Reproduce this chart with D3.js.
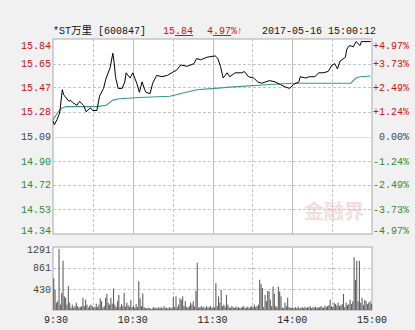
<!DOCTYPE html>
<html>
<head>
<meta charset="utf-8">
<script src="https://cdn.jsdelivr.net/npm/d3@7"></script>
<style>
body{margin:0;background:#f1f1f1;}
svg{display:block;}
text{font-family:"Liberation Mono","DejaVu Sans Mono",monospace;font-size:10px;}
</style>
</head>
<body>
<svg id="chart" width="415" height="330"></svg>
<script>
// price ticks on the left, percent ticks on the right
var priceTicks = [15.84, 15.65, 15.47, 15.28, 15.09, 14.90, 14.72, 14.53, 14.34]
var pctTicks = ["+4.97%", "+3.73%", "+2.49%", "+1.24%", "0.00%", "-1.24%", "-2.49%", "-3.73%", "-4.97%"]
var volTicks = [1291, 861, 430]
var timeLabels = ["9:30", "10:30", "11:30", "14:00", "15:00"]
var timeMin = [0, 60, 120, 180, 240]

// minute traded (0 = 9:30) and price
var priceMin = [0, 1, 3, 5, 7, 8, 9, 12, 13, 15, 18, 20, 23, 25, 28, 30, 33, 35, 38, 40, 43, 45, 46, 47, 49, 52, 54, 55, 58, 60,
	63, 65, 67, 69, 70, 73, 75, 78, 82, 86, 91, 93, 96, 101, 106, 108, 111, 116, 122, 124, 126, 128, 131, 133, 137, 142, 144, 147, 151, 154,
	157, 160, 163, 167, 171, 175, 178, 181, 185, 186, 190, 193, 197, 200, 203, 207, 210, 212, 214, 216, 220, 221, 223, 226, 228, 231, 232, 239]
var priceVal = [15.21, 15.18, 15.22, 15.27, 15.45, 15.41, 15.40, 15.36, 15.37, 15.35, 15.33, 15.36, 15.33, 15.28, 15.31, 15.29, 15.29, 15.40, 15.46, 15.54, 15.62, 15.73, 15.66, 15.55, 15.46, 15.46, 15.51, 15.58, 15.54, 15.58,
	15.50, 15.43, 15.51, 15.45, 15.43, 15.42, 15.50, 15.56, 15.55, 15.56, 15.59, 15.60, 15.64, 15.63, 15.65, 15.69, 15.68, 15.70, 15.71, 15.69, 15.63, 15.54, 15.58, 15.55, 15.58, 15.58, 15.59, 15.55, 15.54, 15.51,
	15.50, 15.51, 15.52, 15.51, 15.49, 15.47, 15.46, 15.49, 15.51, 15.55, 15.54, 15.55, 15.55, 15.58, 15.58, 15.59, 15.64, 15.65, 15.61, 15.67, 15.70, 15.76, 15.79, 15.78, 15.82, 15.79, 15.82, 15.82]

// average price line
var avgMin = [0, 4, 7, 10, 23, 33, 40, 45, 50, 65, 88, 108, 122, 133, 163, 181, 213, 224, 228, 231, 239]
var avgVal = [15.22, 15.28, 15.31, 15.32, 15.32, 15.32, 15.33, 15.37, 15.38, 15.39, 15.40, 15.45, 15.46, 15.47, 15.49, 15.50, 15.50, 15.50, 15.54, 15.55, 15.555]

// volume per minute
var volume = [650, 410, 150, 180, 1250, 110, 350, 1010, 280, 250,
	110, 490, 150, 50, 110, 50, 80, 150, 80, 50,
	60, 80, 250, 80, 210, 110, 50, 80, 110, 80,
	50, 60, 130, 60, 110, 240, 180, 50, 80, 250,
	330, 150, 110, 250, 130, 440, 110, 60, 180, 310,
	60, 120, 80, 350, 70, 150, 100, 60, 200, 60,
	80, 50, 120, 60, 590, 240, 80, 340, 60, 40,
	30, 50, 40, 20, 30, 60, 40, 50, 30, 60,
	40, 60, 30, 80, 40, 50, 30, 60, 40, 50,
	270, 60, 280, 60, 110, 240, 210, 280, 80, 180,
	60, 50, 80, 150, 110, 180, 70, 390, 970, 50,
	60, 80, 50, 70, 40, 80, 50, 60, 80, 40,
	60, 50, 550, 80, 280, 150, 410, 80, 110, 70,
	310, 110, 60, 40, 80, 60, 40, 70, 50, 60,
	40, 50, 60, 80, 40, 50, 70, 40, 60, 80,
	50, 110, 60, 80, 110, 620, 530, 450, 60, 310,
	180, 390, 380, 210, 80, 480, 330, 80, 60, 480,
	380, 280, 50, 40, 150, 80, 250, 60, 50, 40,
	50, 30, 60, 40, 70, 30, 50, 60, 40, 70,
	40, 60, 50, 80, 40, 60, 50, 70, 40, 60,
	50, 80, 60, 40, 90, 60, 80, 100, 210, 80,
	60, 150, 120, 90, 150, 80, 100, 120, 330, 60,
	150, 100, 120, 210, 120, 180, 1080, 620, 1010, 180,
	1010, 150, 250, 100, 210, 180, 120, 150, 180, 130]

var RED = '#d01010', GREEN = '#2e8b2e', GRAY = '#444'

function draw(){
	var svg = d3.select('svg#chart')
	var x = d3.scaleLinear().domain([0, 240]).range([53, 372])
	var y = d3.scaleLinear().domain([14.34, 15.84]).range([234, 39])
	var yv = d3.scaleLinear().domain([0, 1291]).range([310, 247])

	// panels
	svg.append('rect').attr('x', 53).attr('y', 39).attr('width', 319).attr('height', 195)
		.style('fill', '#fff').style('stroke', '#aaa')
	svg.append('rect').attr('x', 53).attr('y', 247).attr('width', 319).attr('height', 63)
		.style('fill', '#fff').style('stroke', '#aaa')

	// watermark
	svg.append('text').attr('x', 334).attr('y', 219).attr('text-anchor', 'middle')
		.style('font-family', '"Noto Sans CJK SC"').style('font-size', '20px').style('font-weight', 'bold')
		.style('fill', '#e6b4b4').style('opacity', 0.45).text('金融界')

	var grid = svg.append('g')
	// horizontal grid (main)
	grid.selectAll('.hg').data(priceTicks.slice(1, 8)).enter().append('line')
		.attr('x1', 53).attr('x2', 372)
		.attr('y1', function(d){return Math.round(y(d)) + 0.5})
		.attr('y2', function(d){return Math.round(y(d)) + 0.5})
		.style('stroke', function(d){return d === 15.09 ? '#ddd' : '#c4c4c4'})
		.style('stroke-dasharray', function(d){return d === 15.09 ? null : '3,2'})
	// horizontal grid (volume)
	grid.selectAll('.vg').data(volTicks.slice(1)).enter().append('line')
		.attr('x1', 53).attr('x2', 372)
		.attr('y1', function(d){return Math.round(yv(d)) + 0.5})
		.attr('y2', function(d){return Math.round(yv(d)) + 0.5})
		.style('stroke', '#c4c4c4').style('stroke-dasharray', '3,2')
	// vertical grid, both panels
	var vmins = [30, 60, 90, 120, 150, 180, 210]
	;[[39, 234], [247, 310]].forEach(function(r){
		grid.selectAll(null).data(vmins).enter().append('line')
			.attr('x1', function(d){return Math.round(x(d)) + 0.5})
			.attr('x2', function(d){return Math.round(x(d)) + 0.5})
			.attr('y1', r[0]).attr('y2', r[1])
			.style('stroke', function(d){return d % 60 === 0 ? '#bbb' : '#c4c4c4'})
			.style('stroke-dasharray', function(d){return d % 60 === 0 ? null : '3,2'})
	})

	// average line
	var avg = avgMin.map(function(m, i){return {m: m, v: avgVal[i]}})
	var pr = priceMin.map(function(m, i){return {m: m, v: priceVal[i]}})
	var line = d3.line()
		.x(function(d){return x(d.m)})
		.y(function(d){return y(d.v)})
	svg.append('path').attr('d', line(avg))
		.style('fill', 'none').style('stroke', '#3a9593').style('stroke-width', 1.1)
	svg.append('path').attr('d', line(pr))
		.style('fill', 'none').style('stroke', '#000').style('stroke-width', 1)

	// volume bars
	svg.selectAll('.bar').data(volume).enter().append('rect')
		.attr('x', function(d, i){return x(i + 0.5) - 0.5})
		.attr('y', function(d){return yv(d)})
		.attr('width', 1.1)
		.attr('height', function(d){return 310 - yv(d)})
		.style('fill', '#606060')

	// left price labels
	svg.selectAll('.pl').data(priceTicks).enter().append('text')
		.attr('x', 51).attr('text-anchor', 'end')
		.attr('y', function(d, i){return y(d) + (i === 0 ? 10 : i === 8 ? -0.5 : 3.5)})
		.style('fill', function(d, i){return i < 4 ? RED : i === 4 ? GRAY : GREEN})
		.text(function(d){return d.toFixed(2)})
	// right percent labels
	svg.selectAll('.pr').data(pctTicks).enter().append('text')
		.attr('x', 409).attr('text-anchor', 'end')
		.attr('y', function(d, i){return y(priceTicks[i]) + (i === 0 ? 10 : i === 8 ? -0.5 : 3.5)})
		.style('fill', function(d, i){return i < 4 ? RED : i === 4 ? GRAY : GREEN})
		.text(function(d){return d})
	// volume labels
	svg.selectAll('.vl').data(volTicks).enter().append('text')
		.attr('x', 51).attr('text-anchor', 'end')
		.attr('y', function(d, i){return yv(d) + (i === 0 ? 6 : 3.5)})
		.style('fill', GRAY)
		.text(function(d){return d})
	// time labels
	svg.selectAll('.tl').data(timeLabels).enter().append('text')
		.attr('x', function(d, i){return x(timeMin[i]) + (i === 0 ? 3 : 0)})
		.attr('y', 323).attr('text-anchor', 'middle')
		.style('fill', '#222')
		.text(function(d){return d})

	// header
	var h = svg.append('text').attr('x', 53).attr('y', 34).style('fill', '#111')
	h.append('tspan').text('*ST')
	h.append('tspan').style('font-family', '"Noto Sans CJK SC"').style('font-size', '10.5px').text('万里')
	h.append('tspan').text(' [600847]')
	var p = svg.append('text').attr('x', 163).attr('y', 34).style('fill', RED)
	p.append('tspan').text('15')
	p.append('tspan').style('text-decoration', 'underline').text('.84')
	var c = svg.append('text').attr('x', 207).attr('y', 34).style('fill', RED)
	c.append('tspan').text('4')
	c.append('tspan').style('text-decoration', 'underline').text('.97')
	c.append('tspan').text('%↑')
	svg.append('text').attr('x', 262).attr('y', 34).style('fill', '#111').text('2017-05-16 15:00:12')
}
draw()
</script>
</body>
</html>
